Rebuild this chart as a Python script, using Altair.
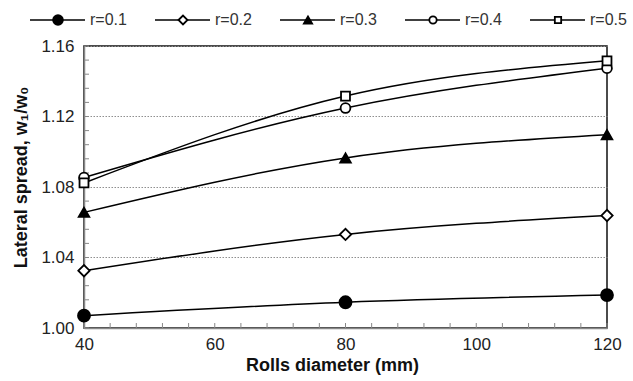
import altair as alt
import pandas as pd
import json

# ---- data ----
diameters = [40, 80, 120]
series = ["r=0.1", "r=0.2", "r=0.3", "r=0.4", "r=0.5"]
r01 = [1.0070, 1.0146, 1.0187]
r02 = [1.0325, 1.0531, 1.0638]
r03 = [1.0656, 1.0965, 1.1097]
r04 = [1.0854, 1.1248, 1.1474]
r05 = [1.0823, 1.1316, 1.1516]

y_labels = [1.00, 1.04, 1.08, 1.12, 1.16]
x_labels = [40, 60, 80, 100, 120]
y_minor = [round(1.0 + 0.008 * i, 3) for i in range(21)]
x_minor = list(range(40, 121, 4))

values = [r01, r02, r03, r04, r05]
rows = []
for s, vals in zip(series, values):
    for d, v in zip(diameters, vals):
        rows.append({"s": s, "d": d, "v": v})
df = pd.DataFrame(rows)

W, H = 523, 282
FONT = "Liberation Sans"

shape_scale = alt.Scale(domain=series, range=["circle", "diamond", "triangle-up", "circle", "square"])
fill_scale = alt.Scale(domain=series, range=["black", "white", "black", "white", "white"])
lw_scale = alt.Scale(domain=series, range=[1.5, 1.5, 1.5, 2.4, 2.4])

x_enc = alt.X("d:Q", scale=alt.Scale(domain=[40, 120], nice=False, zero=False),
              axis=alt.Axis(values=x_labels, format="d", title="Rolls diameter (mm)",
                            grid=False, ticks=False, labelPadding=8, labelFlush=False,
                            titleX=248, titlePadding=4))
y_enc = alt.Y("v:Q", scale=alt.Scale(domain=[1.0, 1.16], nice=False, zero=False),
              axis=alt.Axis(values=y_labels, format=".2f", title="Lateral spread, w₁/w₀",
                            grid=True, gridDash=[1.5, 1.5], gridColor="#8f8f8f", gridWidth=1,
                            ticks=False, labelPadding=10, labelFlush=False,
                            titleY=131, titlePadding=10))

lines = alt.Chart(df).mark_line(color="black", interpolate="monotone").encode(
    x=x_enc, y=y_enc, detail="s:N",
    strokeWidth=alt.StrokeWidth("s:O", scale=lw_scale, legend=None),
)
points = alt.Chart(df).mark_point(filled=True, stroke="black", strokeWidth=1.8, opacity=1).encode(
    x=x_enc, y=y_enc,
    shape=alt.Shape("s:N", scale=shape_scale, legend=None),
    fill=alt.Fill("s:N", scale=fill_scale, legend=None),
    size=alt.Size("s:O", scale=alt.Scale(domain=series, range=[144, 80, 130, 110, 130]), legend=None),
)

ytick_df = pd.DataFrame({"v": y_minor})
xtick_df = pd.DataFrame({"d": x_minor})
yticks = alt.Chart(ytick_df).mark_rule(color="#888", strokeWidth=1).encode(
    y=y_enc, x=alt.value(0), x2=alt.value(5))
xticks = alt.Chart(xtick_df).mark_rule(color="#888", strokeWidth=1).encode(
    x=x_enc, y=alt.value(H), y2=alt.value(H - 5))

main = alt.layer(yticks, xticks, lines, points)

# ---- legend row along the top ----
leg_df = pd.DataFrame({"s": series})
idx_expr = "indexof(" + json.dumps(series) + ", datum.s)"
lx = alt.X("i:Q", scale=alt.Scale(domain=[0, len(series) - 1], range=[-26, 474],
                                   nice=False, zero=False), axis=None)
leg_y = alt.value(-26)
leg_base = alt.Chart(leg_df).transform_calculate(i=idx_expr)
leg_rule = leg_base.mark_rule(color="black", xOffset=-28, x2Offset=27).encode(
    x=lx, x2="i:Q", y=leg_y,
    strokeWidth=alt.StrokeWidth("s:O", scale=lw_scale, legend=None),
)
leg_pts = leg_base.mark_point(filled=True, stroke="black", strokeWidth=1.8, opacity=1).encode(
    x=lx, y=leg_y,
    shape=alt.Shape("s:N", scale=shape_scale, legend=None),
    fill=alt.Fill("s:N", scale=fill_scale, legend=None),
    size=alt.Size("s:O", scale=alt.Scale(domain=series, range=[95, 40, 75, 75, 90]), legend=None),
)
leg_txt = leg_base.mark_text(align="left", baseline="middle", dx=32, fontSize=16,
                             color="#333", font=FONT).encode(
    x=lx, y=leg_y, text="s:N")
legend = alt.layer(leg_rule, leg_pts, leg_txt)

chart = alt.layer(main, legend).resolve_scale(x="independent", size="independent").properties(
    width=W, height=H,
    autosize=alt.AutoSizeParams(type="none"),
    padding={"left": 84, "top": 46, "right": 26, "bottom": 53},
    background="white",
).configure_view(stroke="#111", strokeWidth=1.5).configure_axis(
    domainColor="#888", domainWidth=1.5,
    labelFont=FONT, labelFontSize=17, labelColor="#222",
    titleFont=FONT, titleFontSize=18, titleFontWeight="bold", titleColor="#111",
)

chart.save("out.html", embed_options={"renderer": "svg", "actions": False})
